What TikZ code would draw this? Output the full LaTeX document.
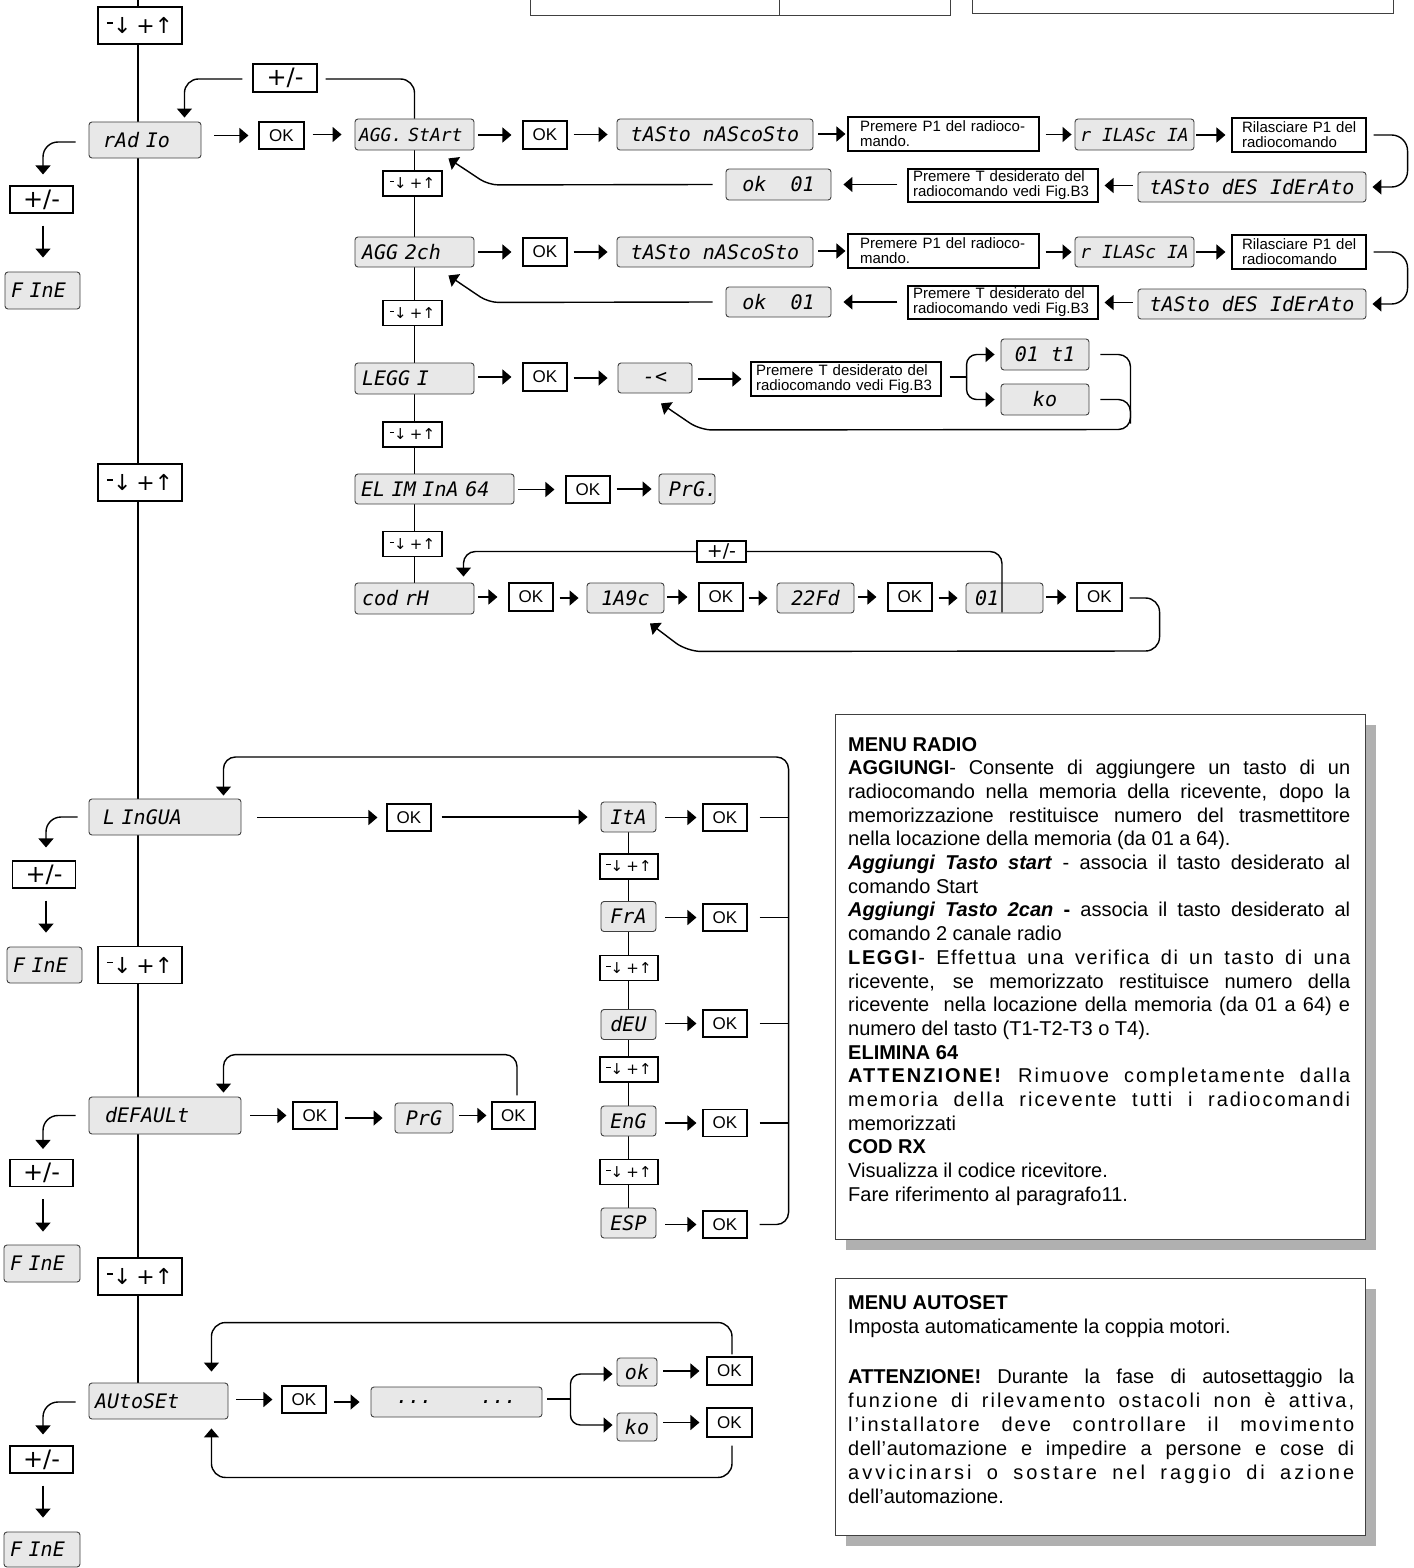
\documentclass[tikz,border=0pt]{standalone}
\usepackage{fontspec}
\setmainfont{Liberation Sans}
\newfontfamily\lcdfont{DejaVu Sans Mono}
\newfontfamily\symfont{DejaVu Sans}
\usetikzlibrary{arrows.meta,calc,backgrounds}
\definecolor{lcdgray}{HTML}{E8E8E8}
\definecolor{shadowgray}{HTML}{B0B0B0}
\newcommand\lcdsz[1]{\lcdfont\itshape\fontsize{#1}{#1}\selectfont}
\newcommand\udt{\raisebox{.45em}{\rule{.28em}{.07em}}↓\hspace{.22em}+↑}
\newcommand\harr[4]{\draw[arr,shorten <=#3,shorten >=#4] (#1.east |- #2.west) -- (#2.west);}
\newcommand\larr[4]{\draw[arr,shorten <=#3,shorten >=#4] (#1.west |- #2.east) -- (#2.east);}
\begin{document}
\begin{tikzpicture}[x=1pt,y=-1pt,
  every node/.style={inner sep=0pt},
  lcd/.style={draw=black!75,line width=0.9pt,fill=lcdgray,rounded corners=3pt,font=\lcdsz{20}},
  btn/.style={draw,line width=1.1pt,fill=white,minimum width=44,minimum height=27,font=\fontsize{17}{17}\selectfont},
  pm/.style={draw,line width=1.1pt,fill=white,minimum width=63,minimum height=27,font=\symfont\fontsize{24}{24}\selectfont},
  ud/.style={draw,line width=1.1pt,fill=white,minimum width=84,minimum height=37,font=\symfont\fontsize{22}{22}\selectfont},
  uds/.style={draw,line width=1.1pt,fill=white,minimum width=59,minimum height=25,font=\symfont\fontsize{15}{15}\selectfont},
  note/.style={draw,line width=1.1pt,fill=white,align=left,minimum height=34,font=\fontsize{15}{15}\selectfont},
  conn/.style={line width=1.4pt},
  arr/.style={line width=1.4pt,-{Triangle[length=9pt,width=15pt]}},
]
\useasboundingbox (0,0) rectangle (1413,1568);
\coordinate (top) at (138,0);

% ---------------- partial boxes at top edge
\draw[line width=1pt,black!75] (530,0) -- (530,16) -- (950,16) -- (950,0);
\draw[line width=1pt,black!75] (779,0) -- (779,16);
\draw[line width=1pt,black!75] (972,0) -- (972,14) -- (1393,14) -- (1393,0);

% ---------------- main column
\node[ud] (ud0) at (140,25.5) {\udt};
\node[lcd,minimum height=36,text width=84,inner xsep=14,align=left] (radio) at (145,140) {rAd Io};
\node[ud] (ud1) at (140,482.5) {\udt};
\node[lcd,minimum height=36,text width=124,inner xsep=14,align=left] (lingua) at (165,817) {L InGUA};
\node[ud] (ud2) at (140,965) {\udt};
\node[lcd,minimum height=37,text width=120,inner xsep=16,align=left] (default) at (165,1115.5) {dEFAULt};
\node[ud] (ud3) at (140,1276.5) {\udt};
\node[lcd,minimum height=36,text width=127,inner xsep=6,align=left] (autoset) at (158.5,1401) {AUtoSEt};

% ---------------- left column (exit)
\node[pm] (pmL1) at (41.5,199.5) {+/-};
\node[lcd,minimum height=37,text width=63,inner xsep=6,align=left] (fine1) at (42.5,290.5) {F InE};
\node[pm] (pmL2) at (44,874.5) {+/-};
\node[lcd,minimum height=36,text width=63,inner xsep=6,align=left] (fine2) at (44.5,965) {F InE};
\node[pm] (pmL3) at (41.5,1173) {+/-};
\node[lcd,minimum height=37,text width=64,inner xsep=6,align=left] (fine3) at (42,1263.5) {F InE};
\node[pm] (pmL4) at (41.5,1459.5) {+/-};
\node[lcd,minimum height=35,text width=64,inner xsep=6,align=left] (fine4) at (42,1549.5) {F InE};

% ---------------- radio menu
\node[pm,minimum width=64,minimum height=28] (pmR) at (285,78) {+/-};
\node[btn,minimum width=45] (okR) at (281.5,135.5) {OK};
\node[lcd,minimum height=31,text width=111,inner xsep=4,align=left,font=\lcdsz{18}] (aggs) at (414.5,134.5) {AGG. StArt};
\node[uds] (udr1) at (412.5,183.5) {\udt};
\node[lcd,minimum height=30,text width=105,inner xsep=7,align=left] (aggs2) at (414.5,252) {AGG 2ch};
\node[uds] (udr2) at (412.5,313) {\udt};
\node[lcd,minimum height=31,text width=105,inner xsep=7,align=left] (leggi) at (414.5,378.5) {LEGG I};
\node[uds] (udr3) at (412.5,434.5) {\udt};
\node[lcd,minimum height=30,text width=147,inner xsep=6,align=left] (elim) at (434.5,489) {EL IM InA 64};
\node[uds] (udr4) at (412.5,544) {\udt};
\node[lcd,minimum height=31,text width=105,inner xsep=7,align=left] (codrx) at (414.5,598.5) {cod rH};

% row AGG. StArt
\node[btn,minimum height=28] (ok1) at (545,135) {OK};
\node[lcd,minimum width=196,minimum height=31] (tn1) at (715,134.5) {tASto nAScoSto};
\node[note,text width=167,inner xsep=12] (p1a) at (943.5,134) {Premere P1 del radioco-\\mando.};
\node[lcd,minimum width=119,minimum height=31,font=\lcdsz{18}] (ril1) at (1134.5,134.5) {r ILASc IA};
\node[note,text width=124,inner xsep=5] (rel1) at (1299,135) {\hspace*{5pt}Rilasciare P1 del\\\hspace*{5pt}radiocomando};
\node[lcd,minimum width=228,minimum height=30] (td1) at (1252,187) {tASto dES IdErAto};
\node[note,text width=180,inner xsep=5,minimum height=33] (pt1) at (1003,185.5) {Premere T desiderato del\\radiocomando vedi Fig.B3};
\node[lcd,minimum width=105,minimum height=31] (okd1) at (778.5,184.5) {ok\ \ 01};

% row AGG 2ch
\node[btn,minimum height=28] (ok2) at (545,252) {OK};
\node[lcd,minimum width=196,minimum height=30] (tn2) at (715,252) {tASto nAScoSto};
\node[note,text width=167,inner xsep=12] (p1b) at (943.5,251) {Premere P1 del radioco-\\mando.};
\node[lcd,minimum width=119,minimum height=30,font=\lcdsz{18}] (ril2) at (1134.5,252) {r ILASc IA};
\node[note,text width=124,inner xsep=5] (rel2) at (1299,252) {\hspace*{5pt}Rilasciare P1 del\\\hspace*{5pt}radiocomando};
\node[lcd,minimum width=228,minimum height=30] (td2) at (1252,304) {tASto dES IdErAto};
\node[note,text width=180,inner xsep=5,minimum height=33] (pt2) at (1003,302.5) {Premere T desiderato del\\radiocomando vedi Fig.B3};
\node[lcd,minimum width=105,minimum height=30] (okd2) at (778.5,302) {ok\ \ 01};

% row LEGGI
\node[btn,minimum height=28] (ok3) at (545,377) {OK};
\node[lcd,minimum width=74,minimum height=30] (lw) at (655,378) {-<\ };
\node[note,text width=180,inner xsep=5] (pt3) at (846,379) {Premere T desiderato del\\radiocomando vedi Fig.B3};
\node[lcd,minimum width=88,minimum height=31] (t1) at (1045,354.5) {01 t1};
\node[lcd,minimum width=88,minimum height=31] (ko1) at (1045,399.5) {ko};

% row ELIMINA
\node[btn] (ok4) at (588,489.5) {OK};
\node[lcd,minimum width=56,minimum height=30] (prg1) at (687,489) {PrG\rlap{.}};

% row COD RX
\node[draw,line width=1.1pt,fill=white,minimum width=49,minimum height=21,font=\symfont\fontsize{19}{19}\selectfont] (pmc) at (721.5,551.5) {+/-};
\node[btn,minimum height=28] (ok5) at (531,597) {OK};
\node[lcd,minimum width=77,minimum height=30] (c1a9) at (625.5,598) {1A9c};
\node[btn,minimum height=28] (ok6) at (721,597) {OK};
\node[lcd,minimum width=77,minimum height=30] (c22) at (815.5,598) {22Fd};
\node[btn,minimum height=28] (ok7) at (910,597) {OK};
\node[lcd,minimum height=30,text width=59,inner xsep=9,align=left] (c01) at (1004.5,598) {01};
\node[btn,minimum width=45,minimum height=28] (ok8) at (1099.5,597) {OK};

% ---------------- lingua menu
\node[btn] (okL) at (409,817.5) {OK};
\node[lcd,minimum width=55,minimum height=30] (ita) at (628.5,817) {ItA};
\node[uds,minimum width=58] (udl1) at (629,866.5) {\udt};
\node[lcd,minimum width=55,minimum height=30] (fra) at (628.5,916.5) {FrA};
\node[uds,minimum width=58] (udl2) at (629,968) {\udt};
\node[lcd,minimum width=55,minimum height=30] (deu) at (628.5,1024.5) {dEU};
\node[uds,minimum width=58] (udl3) at (629,1069.5) {\udt};
\node[lcd,minimum width=55,minimum height=30] (eng) at (628.5,1121) {EnG};
\node[uds,minimum width=58] (udl4) at (629,1172) {\udt};
\node[lcd,minimum width=55,minimum height=30] (esp) at (628.5,1223) {ESP};
\node[btn] (okI) at (725,817.5) {OK};
\node[btn] (okF) at (725,917.5) {OK};
\node[btn] (okD) at (725,1023.5) {OK};
\node[btn] (okE) at (725,1123) {OK};
\node[btn] (okS) at (725,1224.5) {OK};

% ---------------- default menu
\node[btn] (okDf) at (315,1115.5) {OK};
\node[lcd,minimum width=58,minimum height=30] (prg2) at (424,1118) {PrG};
\node[btn,minimum width=43] (okDf2) at (513.5,1115.5) {OK};

% ---------------- autoset menu
\node[btn] (okA) at (304,1399.5) {OK};
\node[lcd,minimum width=171,minimum height=30] (dots) at (456.5,1402) {...\ \ \ \ ...};
\node[lcd,minimum width=40,minimum height=28] (okk) at (637,1372) {ok};
\node[lcd,minimum width=40,minimum height=28] (kok) at (637,1427) {ko};
\node[btn,minimum width=45,minimum height=28] (okA1) at (729.5,1371) {OK};
\node[btn,minimum width=45,minimum height=29] (okA2) at (729.5,1422.5) {OK};

% ---------------- background lines
\begin{pgfonlayer}{background}
  \fill[white] (0,0) rectangle (1413,1568);
  \draw[line width=1.3pt] (top) -- (top |- autoset.north);
  \draw[line width=1.3pt] (aggs.south) -- (codrx.north);
  \draw[line width=1.3pt] (ita.south) -- (esp.north);
\end{pgfonlayer}

% ---------------- left exits
\draw[arr,rounded corners=15pt] ($(radio.west)+(-13,2)$) -| ($(pmL1.north)+(1.5,-11)$);
\draw[arr] ($(pmL1.south)+(1.5,12)$) -- ($(fine1.north)+(0.5,-14)$);
\draw[arr,rounded corners=15pt] ($(lingua.west)+(-11,0)$) -| ($(pmL2.north)+(2,-13)$);
\draw[arr] ($(pmL2.south)+(2,12)$) -- ($(fine2.north)+(1.5,-14)$);
\draw[arr,rounded corners=15pt] ($(default.west)+(-13,0)$) -| ($(pmL3.north)+(1.5,-10)$);
\draw[arr] ($(pmL3.south)+(1.5,12)$) -- ($(fine3.north)+(1,-13)$);
\draw[arr,rounded corners=15pt] ($(autoset.west)+(-13,1)$) -| ($(pmL4.north)+(1.5,-11)$);
\draw[arr] ($(pmL4.south)+(1.5,12)$) -- ($(fine4.north)+(1,-14)$);

% ---------------- radio connectors
\draw[arr,rounded corners=14pt] ($(pmR.west)+(-10,1)$) -| ($(radio.north east)+(-17,-4)$);
\draw[conn,rounded corners=14pt] ($(pmR.east)+(8,1)$) -| (aggs.north);
\harr{radio}{okR}{13pt}{10pt}
\harr{okR}{aggs}{8pt}{13pt}
% row 1
\harr{aggs}{ok1}{4pt}{11pt}
\harr{ok1}{tn1}{6pt}{9pt}
\harr{tn1}{p1a}{5pt}{2pt}
\harr{p1a}{ril1}{6pt}{3pt}
\harr{ril1}{rel1}{2pt}{6pt}
\draw[arr,rounded corners=16pt] ($(rel1.east)+(7,0)$) -- ($(rel1.east)+(41,0)$) |- ($(td1.east)+(6,0)$);
\larr{td1}{pt1}{5pt}{6pt}
\larr{pt1}{okd1}{10pt}{12pt}
\draw[arr,rounded corners=10pt] ($(okd1.west)+(-13,0)$) -- ($(aggs.south east)+(14,34.5)$) -- ($(aggs.south east)+(-26,8)$);
% row 2
\harr{aggs2}{ok2}{4pt}{11pt}
\harr{ok2}{tn2}{6pt}{9pt}
\harr{tn2}{p1b}{5pt}{2pt}
\harr{p1b}{ril2}{6pt}{3pt}
\harr{ril2}{rel2}{2pt}{6pt}
\draw[arr,rounded corners=16pt] ($(rel2.east)+(7,0)$) -- ($(rel2.east)+(41,0)$) |- ($(td2.east)+(6,0)$);
\larr{td2}{pt2}{5pt}{6pt}
\larr{pt2}{okd2}{10pt}{12pt}
\draw[arr,rounded corners=10pt] ($(okd2.west)+(-13,0)$) -- ($(aggs2.south east)+(14,35)$) -- ($(aggs2.south east)+(-26,8)$);
% row LEGGI
\harr{leggi}{ok3}{4pt}{11pt}
\harr{ok3}{lw}{6pt}{10pt}
\harr{lw}{pt3}{6pt}{9pt}
\draw[conn] ($(pt3.east)+(8,-2)$) -- ($(pt3.east)+(25,-2)$);
\draw[arr,rounded corners=10pt] ($(pt3.east)+(25,-2)$) |- ($(t1.west)+(-6,0)$);
\draw[arr,rounded corners=10pt] ($(pt3.east)+(25,-2)$) |- ($(ko1.west)+(-6,0)$);
\draw[arr,rounded corners=12pt] ($(t1.east)+(11,0)$) -| ($(t1.east)+(41,75)$) -- ($(lw.south)+(45,36.5)$) -- ($(lw.south)+(6,10)$);
\draw[conn,rounded corners=12pt] ($(ko1.east)+(11,0)$) -| ($(ko1.east)+(41,24)$);
% row ELIMINA
\harr{elim}{ok4}{4pt}{11pt}
\harr{ok4}{prg1}{6pt}{7pt}
% row COD RX
\harr{codrx}{ok5}{4pt}{11pt}
\harr{ok5}{c1a9}{6pt}{8pt}
\harr{c1a9}{ok6}{3pt}{11pt}
\harr{ok6}{c22}{5pt}{9pt}
\harr{c22}{ok7}{4pt}{11pt}
\harr{ok7}{c01}{6pt}{8pt}
\harr{c01}{ok8}{3pt}{10pt}
\draw[arr,rounded corners=14pt] ($(ok8.east)+(7,1)$) -| ($(ok8.east)+(37,54)$) -- ($(c1a9.south)+(61.5,38)$) -- ($(c1a9.south)+(24.5,10)$);
\draw[arr,rounded corners=12pt] (pmc.west) -| ($(codrx.north east)+(-11,-6)$);
\draw[conn,rounded corners=12pt] (pmc.east) -| ($(c01.south)+(-2.5,-1)$);

% ---------------- lingua connectors
\harr{lingua}{okL}{16pt}{9pt}
\harr{okL}{ita}{10pt}{13pt}
\harr{ita}{okI}{9pt}{6pt}
\harr{fra}{okF}{9pt}{6pt}
\harr{deu}{okD}{9pt}{6pt}
\harr{eng}{okE}{9pt}{6pt}
\harr{esp}{okS}{9pt}{6pt}
\draw[conn] ($(okI.east)+(12,0)$) -- ($(okI.east)+(41,0)$);
\draw[conn] ($(okF.east)+(12,0)$) -- ($(okF.east)+(41,0)$);
\draw[conn] ($(okD.east)+(12,0)$) -- ($(okD.east)+(41,0)$);
\draw[conn] ($(okE.east)+(12,0)$) -- ($(okE.east)+(41,0)$);
\draw[arr,rounded corners=12pt] ($(okS.east)+(12,0)$) -| ($(okI.east)+(41,-60.5)$) -| ($(lingua.north east)+(-18,-3)$);

% ---------------- default connectors
\harr{default}{okDf}{9pt}{6pt}
\harr{okDf}{prg2}{7pt}{12pt}
\harr{prg2}{okDf2}{6pt}{5pt}
\draw[arr,rounded corners=12pt] ($(okDf2.north)+(3.5,-6)$) |- ($(default.north east)+(-18,-42)$) -- ($(default.north east)+(-18,-4)$);

% ---------------- autoset connectors
\harr{autoset}{okA}{8pt}{9pt}
\harr{okA}{dots}{7pt}{11pt}
\draw[conn] ($(dots.east)+(5,-3)$) -- ($(dots.east)+(28,-3)$);
\draw[arr,rounded corners=10pt] ($(dots.east)+(28,-3)$) |- ($(okk.west)+(-4,2)$);
\draw[arr,rounded corners=10pt] ($(dots.east)+(28,-3)$) |- ($(kok.west)+(-4,-2)$);
\harr{okk}{okA1}{6pt}{7pt}
\harr{kok}{okA2}{6pt}{7pt}
\draw[arr,rounded corners=14pt] ($(okA1.north)+(2.5,-2)$) |- ($(autoset.north east)+(-17,-60)$) -- ($(autoset.north east)+(-17,-11)$);
\draw[arr,rounded corners=14pt] ($(okA2.south)+(2.5,8)$) |- ($(autoset.south east)+(-17,58)$) -- ($(autoset.south east)+(-17,9)$);

% ---------------- text panels
\fill[shadowgray] (846,725) rectangle (1376,1250);
\node[draw=black!75,line width=1pt,fill=white,minimum width=530,minimum height=525,anchor=north west] (radiobox) at (835,714) {};
\node[anchor=base west,text width=502,align=justify,font=\fontsize{20}{23.7}\selectfont] (radiotext) at (848,751) {%
\parindent=0pt
\textbf{MENU RADIO}\par
\textbf{AGGIUNGI}- Consente di aggiungere un tasto di un\linebreak
radiocomando nella memoria della ricevente, dopo la\linebreak
memorizzazione restituisce numero del trasmettitore\linebreak
nella locazione della memoria (da 01 a 64).\par
\textbf{\textit{Aggiungi Tasto start}} - associa il tasto desiderato al\linebreak
comando Start\par
\textbf{\textit{Aggiungi Tasto 2can}} \textbf{-} associa il tasto desiderato al\linebreak
comando 2 canale radio\par
{\addfontfeature{LetterSpace=8}\textbf{LEGGI}- Effettua una verifica di un tasto di una}\linebreak
ricevente, se memorizzato restituisce numero della\linebreak
ricevente\ \ nella locazione della memoria (da 01 a 64) e\linebreak
numero del tasto (T1-T2-T3 o T4).\par
\textbf{ELIMINA 64}\par
{\addfontfeature{LetterSpace=10}\textbf{ATTENZIONE!} Rimuove completamente dalla}\linebreak
{\addfontfeature{LetterSpace=10}memoria della ricevente tutti i radiocomandi}\linebreak
memorizzati\par
\textbf{COD RX}\par
Visualizza il codice ricevitore.\par
Fare riferimento al paragrafo11.\par};

\fill[shadowgray] (846,1289) rectangle (1376,1546);
\node[draw=black!75,line width=1pt,fill=white,minimum width=530,minimum height=257,anchor=north west] (autobox) at (835,1278) {};
\node[anchor=base west,text width=506,align=justify,font=\fontsize{20}{24}\selectfont] (autotext) at (848,1309) {%
\parindent=0pt
\textbf{MENU AUTOSET}\par
Imposta automaticamente la coppia motori.\par
\vskip 26pt
\textbf{ATTENZIONE!} Durante la fase di autosettaggio la\linebreak
{\addfontfeature{LetterSpace=10}funzione di rilevamento ostacoli non è attiva,}\linebreak
{\addfontfeature{LetterSpace=10}l’installatore deve controllare il movimento}\linebreak
{\addfontfeature{LetterSpace=3}dell’automazione e impedire a persone e cose di}\linebreak
{\addfontfeature{LetterSpace=15}avvicinarsi o sostare nel raggio di azione}\linebreak
dell’automazione.\par};
\end{tikzpicture}
\end{document}
